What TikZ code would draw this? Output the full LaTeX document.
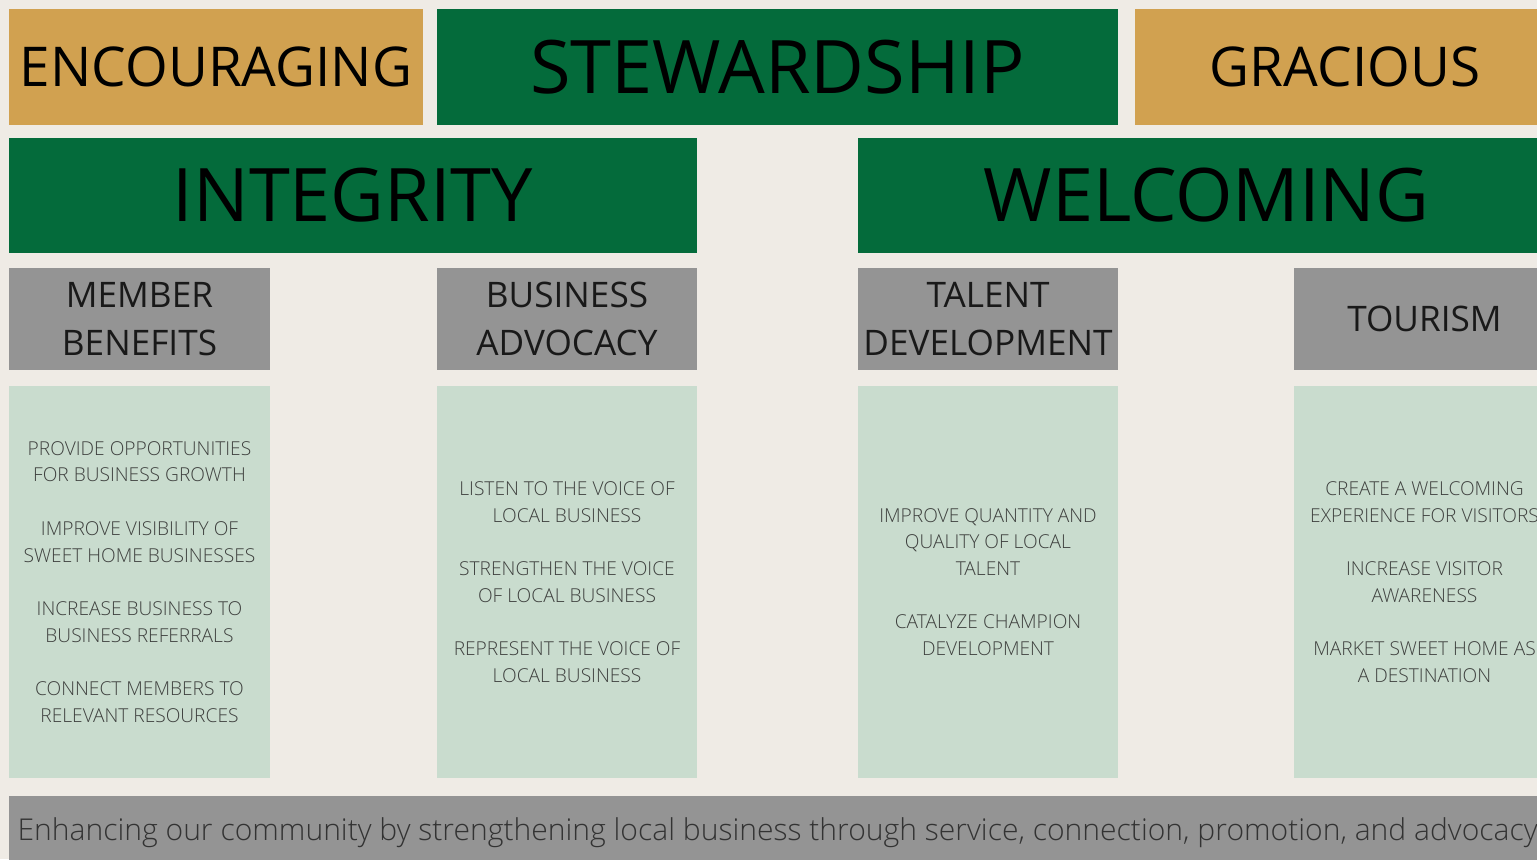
\documentclass[tikz,border=0pt]{standalone}
\usepackage{fontspec}
\setmainfont{Open Sans}
\newfontfamily\lightfont{Open Sans}[UprightFont=* Light]
\usetikzlibrary{positioning}
\definecolor{scPaper}{RGB}{239,235,229}
\definecolor{scGold}{RGB}{209,161,80}
\definecolor{scGreen}{RGB}{4,107,59}
\definecolor{scGrey}{RGB}{148,148,148}
\definecolor{scMint}{RGB}{201,220,206}
\definecolor{scInk}{RGB}{62,64,62}

\begin{document}
\begin{tikzpicture}[
    x=0.01cm, y=-0.01cm,
    value/.style={rectangle, fill=scGold, inner sep=0pt, minimum height=1.16cm,
      font=\fontsize{15.6}{18}\selectfont, text=black},
    pillar/.style={rectangle, fill=scGreen, inner sep=0pt, minimum height=1.16cm,
      font=\fontsize{21}{24}\selectfont, text=black},
    area/.style={rectangle, fill=scGrey, inner sep=0pt, minimum width=2.6cm, minimum height=1.02cm,
      align=center, font=\fontsize{10}{13.7}\selectfont, text=black!90},
    goals/.style={rectangle, fill=scMint, inner sep=0pt, minimum width=2.6cm, minimum height=3.92cm,
      align=center, font=\lightfont\fontsize{5.45}{7.6}\selectfont, text=scInk}
]
  % page
  \fill[scPaper] (0,0) rectangle (1537,859);
  \useasboundingbox (0,0) rectangle (1537,859);

  % values on top
  \node[value, minimum width=4.14cm] (encouraging) at (216,67) {ENCOURAGING};
  \node[pillar, minimum width=6.81cm] (stewardship) at (777.5,67) {STEWARDSHIP};
  \node[value, minimum width=4.20cm] (gracious) at (1345,67) {GRACIOUS};

  \node[pillar, minimum width=6.88cm, minimum height=1.15cm] (integrity) at (353,195.5) {INTEGRITY};
  \node[pillar, minimum width=6.97cm, minimum height=1.15cm] (welcoming) at (1206.5,195.5) {WELCOMING};

  % focus areas
  \node[area] (members) at (139.5,319) {MEMBER\\BENEFITS};
  \node[area] (advocacy) at (567,319) {BUSINESS\\ADVOCACY};
  \node[area] (talent) at (988,319) {TALENT\\DEVELOPMENT};
  \node[area, minimum width=2.61cm] (tourism) at (1424.5,319) {TOURISM};

  % goals under each area
  \node[goals] (membersGoals) at (139.5,582) {PROVIDE OPPORTUNITIES\\FOR BUSINESS GROWTH\\[7.6pt]
    IMPROVE VISIBILITY OF\\SWEET HOME BUSINESSES\\[7.6pt]
    INCREASE BUSINESS TO\\BUSINESS REFERRALS\\[7.6pt]
    CONNECT MEMBERS TO\\RELEVANT RESOURCES};
  \node[goals] (advocacyGoals) at (567,582) {LISTEN TO THE VOICE OF\\LOCAL BUSINESS\\[7.6pt]
    STRENGTHEN THE VOICE\\OF LOCAL BUSINESS\\[7.6pt]
    REPRESENT THE VOICE OF\\LOCAL BUSINESS};
  \node[goals] (talentGoals) at (988,582) {IMPROVE QUANTITY AND\\QUALITY OF LOCAL\\TALENT\\[7.6pt]
    CATALYZE CHAMPION\\DEVELOPMENT};
  \node[goals, minimum width=2.61cm] (tourismGoals) at (1424.5,582) {CREATE A WELCOMING\\EXPERIENCE FOR VISITORS\\[7.6pt]
    INCREASE VISITOR\\AWARENESS\\[7.6pt]
    MARKET SWEET HOME AS\\A DESTINATION};

  % mission bar, text runs from the left edge
  \node[rectangle, fill=scGrey, inner ysep=0pt, inner xsep=0.09cm, minimum height=0.74cm,
    font=\lightfont\fontsize{8.55}{10}\selectfont, text=black!80] (mission) at (782,833)
    {\makebox[15.28cm][l]{Enhancing our community by strengthening local business through service, connection, promotion, and advocacy}};
\end{tikzpicture}
\end{document}
